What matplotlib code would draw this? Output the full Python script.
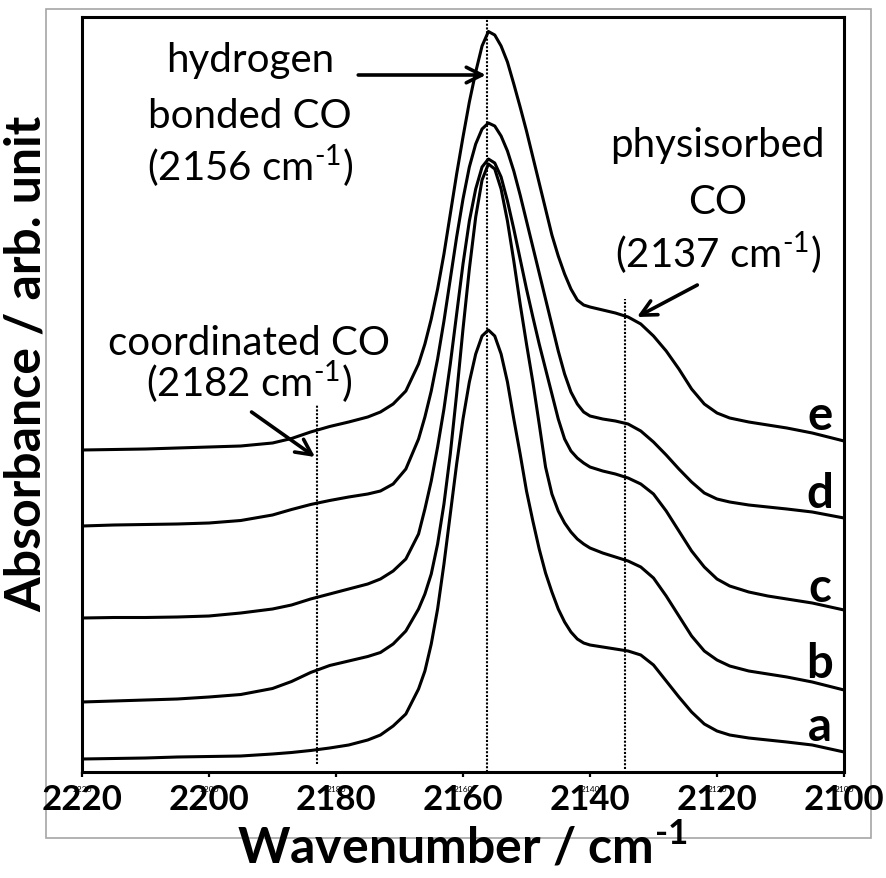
import numpy as np
import matplotlib
matplotlib.use('Agg')
import matplotlib.pyplot as plt
from matplotlib.patches import Rectangle

plt.rcParams['font.family'] = ['Lato', 'DejaVu Sans']
plt.rcParams['mathtext.fontset'] = 'custom'
plt.rcParams['mathtext.rm'] = 'Lato'
plt.rcParams['mathtext.bf'] = 'Lato:bold'

# -----------------------------------------------------------------------------
# IR spectra of adsorbed CO, curves a-e (offset, milli-absorbance)

wavenumber = [2220, 2215, 2210, 2205, 2200, 2195, 2190, 2187, 2184, 2181,
              2178, 2175, 2173, 2171, 2169, 2167, 2166, 2165, 2164, 2163,
              2162, 2161, 2160, 2159, 2158, 2157, 2156, 2155, 2154, 2153,
              2152, 2151, 2150, 2149, 2148, 2147, 2146, 2145, 2144, 2143,
              2142, 2141, 2140, 2138, 2136, 2134, 2132, 2130, 2128, 2126,
              2124, 2122, 2120, 2118, 2115, 2112, 2109, 2105, 2100]

spec_a = [26, 27, 28, 30, 31, 32, 36, 39, 43, 48,
          54, 64, 74, 92, 116, 166, 202, 256, 326, 416,
          516, 616, 706, 780, 836, 872, 884, 872, 836, 780,
          706, 636, 562, 502, 446, 398, 360, 326, 300, 280,
          266, 258, 254, 250, 246, 242, 234, 214, 182, 150,
          120, 96, 82, 74, 68, 64, 60, 54, 40]
spec_b = [140, 142, 144, 146, 150, 155, 167, 181, 199, 213,
          222, 231, 239, 256, 282, 326, 356, 396, 456, 536,
          636, 756, 886, 1006, 1110, 1184, 1216, 1206, 1166, 1102,
          1022, 936, 856, 780, 696, 610, 556, 522, 498, 480,
          466, 456, 448, 438, 430, 422, 410, 388, 352, 312,
          272, 242, 224, 212, 202, 196, 190, 180, 164]
spec_c = [308, 309, 309, 310, 312, 318, 326, 334, 346, 356,
          366, 376, 386, 402, 426, 476, 526, 582, 650, 726,
          816, 916, 1016, 1102, 1166, 1210, 1226, 1218, 1190, 1142,
          1086, 1026, 966, 910, 856, 806, 756, 706, 666, 642,
          628, 618, 610, 602, 596, 588, 576, 556, 522, 482,
          442, 410, 386, 372, 360, 352, 346, 338, 324]
spec_d = [492, 494, 495, 496, 498, 503, 514, 525, 535, 543,
          550, 556, 562, 576, 606, 666, 710, 762, 826, 902,
          986, 1070, 1146, 1210, 1256, 1286, 1298, 1292, 1272, 1242,
          1202, 1154, 1102, 1050, 998, 946, 894, 842, 796, 760,
          736, 720, 712, 706, 702, 696, 682, 660, 634, 606,
          580, 558, 546, 540, 534, 530, 526, 520, 508]
spec_e = [644, 645, 646, 648, 650, 652, 658, 667, 680, 691,
          700, 710, 720, 736, 762, 816, 856, 906, 966, 1036,
          1116, 1196, 1270, 1340, 1400, 1452, 1481, 1474, 1452, 1420,
          1376, 1330, 1282, 1230, 1178, 1126, 1074, 1032, 996, 966,
          944, 934, 930, 924, 918, 910, 896, 872, 842, 806,
          766, 736, 718, 708, 700, 694, 688, 678, 662]

curve_labels = ['a', 'b', 'c', 'd', 'e']
label_heights = [63, 190, 343, 529, 687]

x_ticks = [2220, 2200, 2180, 2160, 2140, 2120, 2100]

# -----------------------------------------------------------------------------

f = plt.figure(figsize=(8.86, 8.79), dpi=100)
ax = f.add_axes([82 / 886, 106 / 879, 762 / 886, 755 / 879])

for spec in [spec_a, spec_b, spec_c, spec_d, spec_e]:
    ax.plot(wavenumber, spec, color='black', lw=2.2,
            solid_joinstyle='round', solid_capstyle='round')

# band positions
dots = dict(color='black', lw=1.5, ls=(0, (1, 0.8)))
ax.plot([2156.2, 2156.2], [0, 1510], **dots)
ax.plot([2183, 2183], [16, 734], **dots)
ax.plot([2134.5, 2134.5], [6, 946], **dots)

ax.set_xlim(2220, 2100)
ax.set_ylim(0, 1510)

for lab, h in zip(curve_labels, label_heights):
    ax.text(2103.8, h, lab, ha='center', va='baseline',
            fontsize=34, fontweight='bold')

# superscript "-1" drawn with a short hyphen
sup = '$^{\\mathrm{\u2010}\\mathrm{1}}$'
sup_bold = '$^{\\mathbf{\u2010}\\mathbf{1}}$'

txt = dict(ha='center', va='baseline', fontsize=29)
ax.text(2193.5, 1403, 'hydrogen', **txt)
ax.text(2193.5, 1291, 'bonded CO', **txt)
ax.text(2193.5, 1183, '(2156 cm' + sup + ')', **txt)
ax.text(2119.9, 1233, 'physisorbed', **txt)
ax.text(2119.9, 1119, 'CO', **txt)
ax.text(2119.9, 1009, '(2137 cm' + sup + ')', **txt)
ax.text(2193.7, 836, 'coordinated CO', **txt)
ax.text(2193.7, 752, '(2182 cm' + sup + ')', **txt)

arw = dict(arrowstyle='->', lw=2.6, color='black',
           mutation_scale=28, shrinkA=0, shrinkB=0)
ax.annotate('', xy=(2156.4, 1394), xytext=(2176.5, 1394), arrowprops=arw)
ax.annotate('', xy=(2132.6, 910), xytext=(2123.1, 974), arrowprops=arw)
ax.annotate('', xy=(2183.3, 630), xytext=(2193.3, 720), arrowprops=arw)

# axes styling
for sp in ax.spines.values():
    sp.set_linewidth(2.2)
ax.set_yticks([])
ax.set_xticks(x_ticks)
ax.set_xticklabels([str(t) for t in x_ticks])
ax.tick_params(axis='x', direction='out', length=3.5, width=1.6,
               labelsize=6, pad=6)
for t in x_ticks:
    ax.text(t, -0.0146, str(t), transform=ax.get_xaxis_transform(),
            ha='center', va='top', fontsize=25, fontweight='bold')

f.text(462 / 886, 1 - 846 / 879, 'Wavenumber / cm' + sup_bold,
       ha='center', va='center', fontsize=36, fontweight='bold')
f.text(26 / 886, 1 - 364 / 879, 'Absorbance / arb. unit', rotation=90,
       ha='center', va='center', fontsize=36, fontweight='bold')

# chart area frame
f.add_artist(Rectangle((46 / 886, 1 - 839 / 879), 825 / 886, 829 / 879,
                       transform=f.transFigure, fill=False,
                       edgecolor='#a6a6a6', lw=1.2, zorder=-1))

plt.savefig('out.png', dpi=100)
plt.close()
